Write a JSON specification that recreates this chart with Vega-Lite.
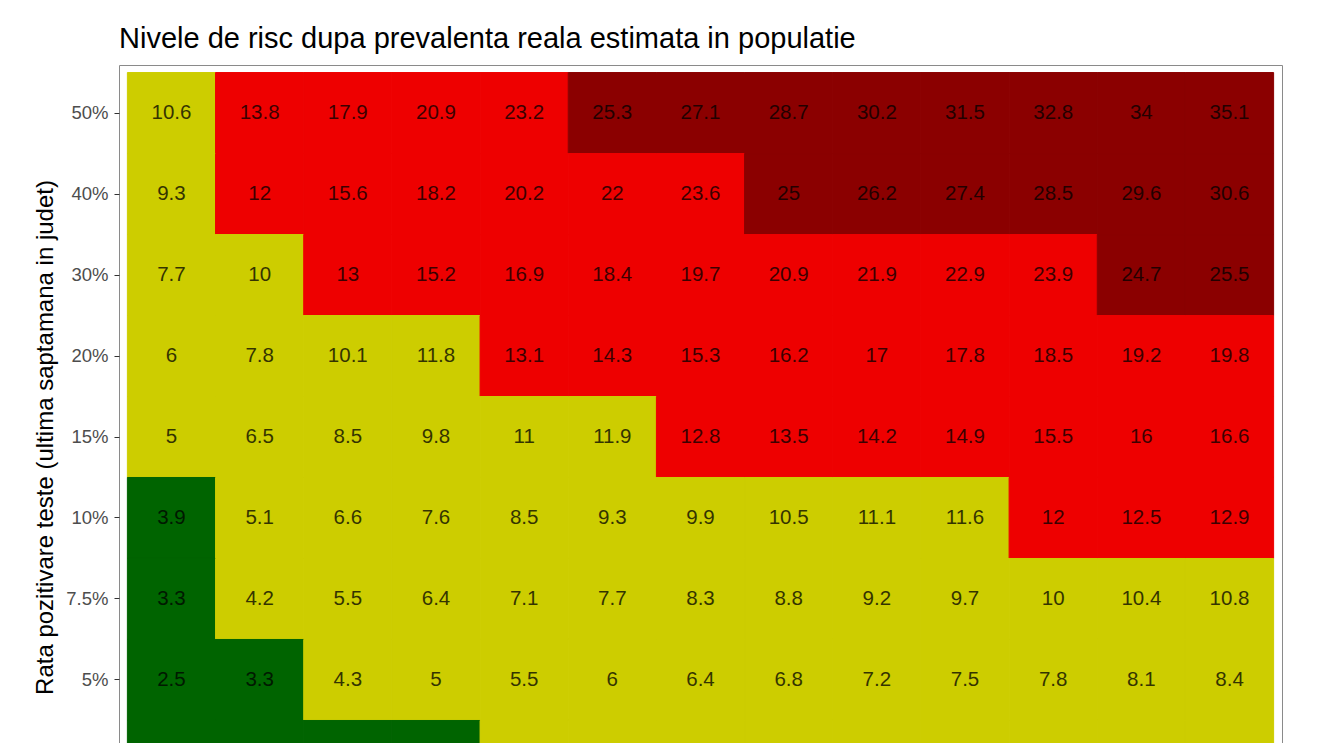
{
  "$schema": "https://vega.github.io/schema/vega-lite/v6.json",
  "width": 1163,
  "height": 744,
  "autosize": "none",
  "padding": {"left": 119, "top": 65, "right": 38, "bottom": 0},
  "background": "white",
  "title": {
    "text": "Nivele de risc dupa prevalenta reala estimata in populatie",
    "anchor": "start",
    "frame": "group",
    "font": "Liberation Sans",
    "fontSize": 29,
    "fontWeight": "normal",
    "color": "black",
    "offset": 11
  },
  "config": {
    "font": "Liberation Sans",
    "view": {"stroke": "#8a8a8a", "strokeWidth": 1}
  },
  "data": {
    "values": [
      {"rate": "50%", "col": 1, "v": 10.6}, {"rate": "50%", "col": 2, "v": 13.8}, {"rate": "50%", "col": 3, "v": 17.9}, {"rate": "50%", "col": 4, "v": 20.9}, {"rate": "50%", "col": 5, "v": 23.2}, {"rate": "50%", "col": 6, "v": 25.3}, {"rate": "50%", "col": 7, "v": 27.1}, {"rate": "50%", "col": 8, "v": 28.7}, {"rate": "50%", "col": 9, "v": 30.2}, {"rate": "50%", "col": 10, "v": 31.5}, {"rate": "50%", "col": 11, "v": 32.8}, {"rate": "50%", "col": 12, "v": 34}, {"rate": "50%", "col": 13, "v": 35.1},
      {"rate": "40%", "col": 1, "v": 9.3}, {"rate": "40%", "col": 2, "v": 12}, {"rate": "40%", "col": 3, "v": 15.6}, {"rate": "40%", "col": 4, "v": 18.2}, {"rate": "40%", "col": 5, "v": 20.2}, {"rate": "40%", "col": 6, "v": 22}, {"rate": "40%", "col": 7, "v": 23.6}, {"rate": "40%", "col": 8, "v": 25}, {"rate": "40%", "col": 9, "v": 26.2}, {"rate": "40%", "col": 10, "v": 27.4}, {"rate": "40%", "col": 11, "v": 28.5}, {"rate": "40%", "col": 12, "v": 29.6}, {"rate": "40%", "col": 13, "v": 30.6},
      {"rate": "30%", "col": 1, "v": 7.7}, {"rate": "30%", "col": 2, "v": 10}, {"rate": "30%", "col": 3, "v": 13}, {"rate": "30%", "col": 4, "v": 15.2}, {"rate": "30%", "col": 5, "v": 16.9}, {"rate": "30%", "col": 6, "v": 18.4}, {"rate": "30%", "col": 7, "v": 19.7}, {"rate": "30%", "col": 8, "v": 20.9}, {"rate": "30%", "col": 9, "v": 21.9}, {"rate": "30%", "col": 10, "v": 22.9}, {"rate": "30%", "col": 11, "v": 23.9}, {"rate": "30%", "col": 12, "v": 24.7}, {"rate": "30%", "col": 13, "v": 25.5},
      {"rate": "20%", "col": 1, "v": 6}, {"rate": "20%", "col": 2, "v": 7.8}, {"rate": "20%", "col": 3, "v": 10.1}, {"rate": "20%", "col": 4, "v": 11.8}, {"rate": "20%", "col": 5, "v": 13.1}, {"rate": "20%", "col": 6, "v": 14.3}, {"rate": "20%", "col": 7, "v": 15.3}, {"rate": "20%", "col": 8, "v": 16.2}, {"rate": "20%", "col": 9, "v": 17}, {"rate": "20%", "col": 10, "v": 17.8}, {"rate": "20%", "col": 11, "v": 18.5}, {"rate": "20%", "col": 12, "v": 19.2}, {"rate": "20%", "col": 13, "v": 19.8},
      {"rate": "15%", "col": 1, "v": 5}, {"rate": "15%", "col": 2, "v": 6.5}, {"rate": "15%", "col": 3, "v": 8.5}, {"rate": "15%", "col": 4, "v": 9.8}, {"rate": "15%", "col": 5, "v": 11}, {"rate": "15%", "col": 6, "v": 11.9}, {"rate": "15%", "col": 7, "v": 12.8}, {"rate": "15%", "col": 8, "v": 13.5}, {"rate": "15%", "col": 9, "v": 14.2}, {"rate": "15%", "col": 10, "v": 14.9}, {"rate": "15%", "col": 11, "v": 15.5}, {"rate": "15%", "col": 12, "v": 16}, {"rate": "15%", "col": 13, "v": 16.6},
      {"rate": "10%", "col": 1, "v": 3.9}, {"rate": "10%", "col": 2, "v": 5.1}, {"rate": "10%", "col": 3, "v": 6.6}, {"rate": "10%", "col": 4, "v": 7.6}, {"rate": "10%", "col": 5, "v": 8.5}, {"rate": "10%", "col": 6, "v": 9.3}, {"rate": "10%", "col": 7, "v": 9.9}, {"rate": "10%", "col": 8, "v": 10.5}, {"rate": "10%", "col": 9, "v": 11.1}, {"rate": "10%", "col": 10, "v": 11.6}, {"rate": "10%", "col": 11, "v": 12}, {"rate": "10%", "col": 12, "v": 12.5}, {"rate": "10%", "col": 13, "v": 12.9},
      {"rate": "7.5%", "col": 1, "v": 3.3}, {"rate": "7.5%", "col": 2, "v": 4.2}, {"rate": "7.5%", "col": 3, "v": 5.5}, {"rate": "7.5%", "col": 4, "v": 6.4}, {"rate": "7.5%", "col": 5, "v": 7.1}, {"rate": "7.5%", "col": 6, "v": 7.7}, {"rate": "7.5%", "col": 7, "v": 8.3}, {"rate": "7.5%", "col": 8, "v": 8.8}, {"rate": "7.5%", "col": 9, "v": 9.2}, {"rate": "7.5%", "col": 10, "v": 9.7}, {"rate": "7.5%", "col": 11, "v": 10}, {"rate": "7.5%", "col": 12, "v": 10.4}, {"rate": "7.5%", "col": 13, "v": 10.8},
      {"rate": "5%", "col": 1, "v": 2.5}, {"rate": "5%", "col": 2, "v": 3.3}, {"rate": "5%", "col": 3, "v": 4.3}, {"rate": "5%", "col": 4, "v": 5}, {"rate": "5%", "col": 5, "v": 5.5}, {"rate": "5%", "col": 6, "v": 6}, {"rate": "5%", "col": 7, "v": 6.4}, {"rate": "5%", "col": 8, "v": 6.8}, {"rate": "5%", "col": 9, "v": 7.2}, {"rate": "5%", "col": 10, "v": 7.5}, {"rate": "5%", "col": 11, "v": 7.8}, {"rate": "5%", "col": 12, "v": 8.1}, {"rate": "5%", "col": 13, "v": 8.4},
      {"rate": "2.5%", "col": 1, "v": 1.9}, {"rate": "2.5%", "col": 2, "v": 2.5}, {"rate": "2.5%", "col": 3, "v": 3.2}, {"rate": "2.5%", "col": 4, "v": 3.7}, {"rate": "2.5%", "col": 5, "v": 4.1}, {"rate": "2.5%", "col": 6, "v": 4.5}, {"rate": "2.5%", "col": 7, "v": 4.8}, {"rate": "2.5%", "col": 8, "v": 5.1}, {"rate": "2.5%", "col": 9, "v": 5.4}, {"rate": "2.5%", "col": 10, "v": 5.6}, {"rate": "2.5%", "col": 11, "v": 5.8}, {"rate": "2.5%", "col": 12, "v": 6.1}, {"rate": "2.5%", "col": 13, "v": 6.3}
    ]
  },
  "encoding": {
    "x": {
      "field": "col",
      "type": "ordinal",
      "axis": null,
      "scale": {"paddingInner": 0, "paddingOuter": 0.095}
    },
    "y": {
      "field": "rate",
      "type": "ordinal",
      "sort": ["50%", "40%", "30%", "20%", "15%", "10%", "7.5%", "5%", "2.5%"],
      "scale": {"paddingInner": 0, "paddingOuter": 0.093},
      "axis": {
        "title": "Rata pozitivare teste (ultima saptamana in judet)",
        "titleFont": "Liberation Sans",
        "titleFontSize": 24,
        "titleFontWeight": "normal",
        "titleColor": "black",
        "titlePadding": 8,
        "labelFont": "Liberation Sans",
        "labelFontSize": 18.5,
        "labelColor": "#4d4d4d",
        "labelPadding": 6,
        "tickColor": "#333333",
        "tickSize": 5,
        "domain": false,
        "grid": false
      }
    }
  },
  "layer": [
    {
      "mark": {"type": "rect", "strokeWidth": 1},
      "encoding": {
        "color": {
          "field": "v",
          "type": "quantitative",
          "scale": {"type": "threshold", "domain": [4, 12, 24.5], "range": ["#006400", "#CDCD00", "#EE0000", "#8B0000"]},
          "legend": null
        },
        "stroke": {
          "field": "v",
          "type": "quantitative",
          "scale": {"type": "threshold", "domain": [4, 12, 24.5], "range": ["#006400", "#CDCD00", "#EE0000", "#8B0000"]},
          "legend": null
        }
      }
    },
    {
      "transform": [{"filter": "datum.rate !== '2.5%'"}],
      "mark": {"type": "text", "font": "Liberation Sans", "fontSize": 20.5, "color": "black", "opacity": 0.75},
      "encoding": {
        "text": {"field": "v", "type": "quantitative", "format": ""}
      }
    }
  ]
}
